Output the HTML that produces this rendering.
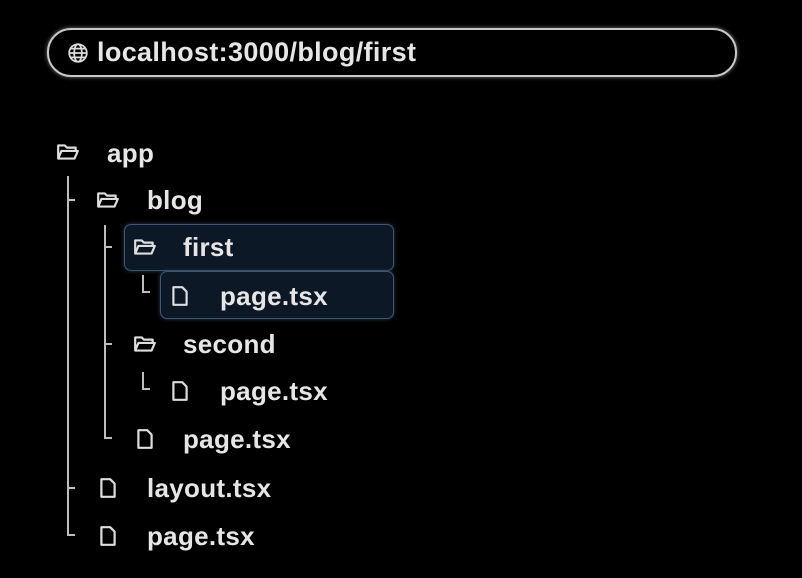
<!DOCTYPE html><html><head><style>
body{margin:0;width:802px;height:578px;background:#000;position:relative;overflow:hidden;font-family:"Liberation Sans",sans-serif;font-weight:bold;color:#e6e6e6}
.a{position:absolute}
.t{position:absolute;font-size:26px;line-height:26px;letter-spacing:0.3px}
.l{position:absolute;background:#bdbdbd}
.box{position:absolute;background:#0d1826;border:1.5px solid #3d5673;border-radius:7px;box-shadow:0 0 4px #2a3d55}
</style></head><body>
<div class="a" style="left:47px;top:28px;width:686px;height:45px;border:2px solid #c8c8c8;border-radius:24px;box-shadow:0 0 4px #777"></div>
<svg class="a" style="left:67px;top:42px" width="22" height="22" viewBox="0 0 20 20" fill="none" stroke="#ddd" stroke-width="1.6"><circle cx="10" cy="10" r="8"/><ellipse cx="10" cy="10" rx="3.5" ry="8"/><line x1="2" y1="10" x2="18" y2="10"/><line x1="3" y1="6" x2="17" y2="6"/><line x1="3" y1="14" x2="17" y2="14"/></svg>
<div class="t" style="left:97px;top:39px;font-size:27px;letter-spacing:0.35px">localhost:3000/blog/first</div>
<div class="box" style="left:124px;top:224px;width:268px;height:45px"></div>
<div class="box" style="left:160px;top:271px;width:232px;height:46px"></div>
<div class="l" style="left:67px;top:176px;width:2px;height:360px"></div>
<div class="l" style="left:67px;top:199px;width:8px;height:2px"></div>
<div class="l" style="left:67px;top:487px;width:8px;height:2px"></div>
<div class="l" style="left:67px;top:534px;width:8px;height:2px"></div>
<div class="l" style="left:104px;top:225px;width:2px;height:214px"></div>
<div class="l" style="left:104px;top:246px;width:8px;height:2px"></div>
<div class="l" style="left:104px;top:343px;width:8px;height:2px"></div>
<div class="l" style="left:104px;top:437px;width:8px;height:2px"></div>
<div class="l" style="left:142px;top:275px;width:2px;height:18px"></div>
<div class="l" style="left:142px;top:291px;width:8px;height:2px"></div>
<div class="l" style="left:142px;top:372px;width:2px;height:18px"></div>
<div class="l" style="left:142px;top:388px;width:8px;height:2px"></div>
<svg width="0" height="0" style="position:absolute"><defs>
<symbol id="fo" viewBox="0 0 22 18"><path d="M2 15V3h6l2 2h8v3M2 15l3-7h15l-3 7z" fill="none" stroke="#ddd" stroke-width="2" stroke-linejoin="round"/></symbol>
<symbol id="fi" viewBox="0 0 16 20"><path d="M2 2h8l4 4v12H2z" fill="none" stroke="#ddd" stroke-width="2" stroke-linejoin="round"/></symbol>
</defs></svg>
<svg class="a" style="left:56px;top:142px" width="24" height="20"><use href="#fo"/></svg>
<div class="t" style="left:107px;top:140px">app</div>
<svg class="a" style="left:96px;top:190px" width="24" height="20"><use href="#fo"/></svg>
<div class="t" style="left:147px;top:187px">blog</div>
<svg class="a" style="left:133px;top:237px" width="24" height="20"><use href="#fo"/></svg>
<div class="t" style="left:183px;top:234px">first</div>
<svg class="a" style="left:171px;top:285px" width="18" height="22"><use href="#fi"/></svg>
<div class="t" style="left:220px;top:283px">page.tsx</div>
<svg class="a" style="left:133px;top:334px" width="24" height="20"><use href="#fo"/></svg>
<div class="t" style="left:183px;top:331px">second</div>
<svg class="a" style="left:171px;top:380px" width="18" height="22"><use href="#fi"/></svg>
<div class="t" style="left:220px;top:378px">page.tsx</div>
<svg class="a" style="left:136px;top:428px" width="18" height="22"><use href="#fi"/></svg>
<div class="t" style="left:183px;top:426px">page.tsx</div>
<svg class="a" style="left:99px;top:477px" width="18" height="22"><use href="#fi"/></svg>
<div class="t" style="left:147px;top:475px">layout.tsx</div>
<svg class="a" style="left:99px;top:525px" width="18" height="22"><use href="#fi"/></svg>
<div class="t" style="left:147px;top:523px">page.tsx</div>
</body></html>
